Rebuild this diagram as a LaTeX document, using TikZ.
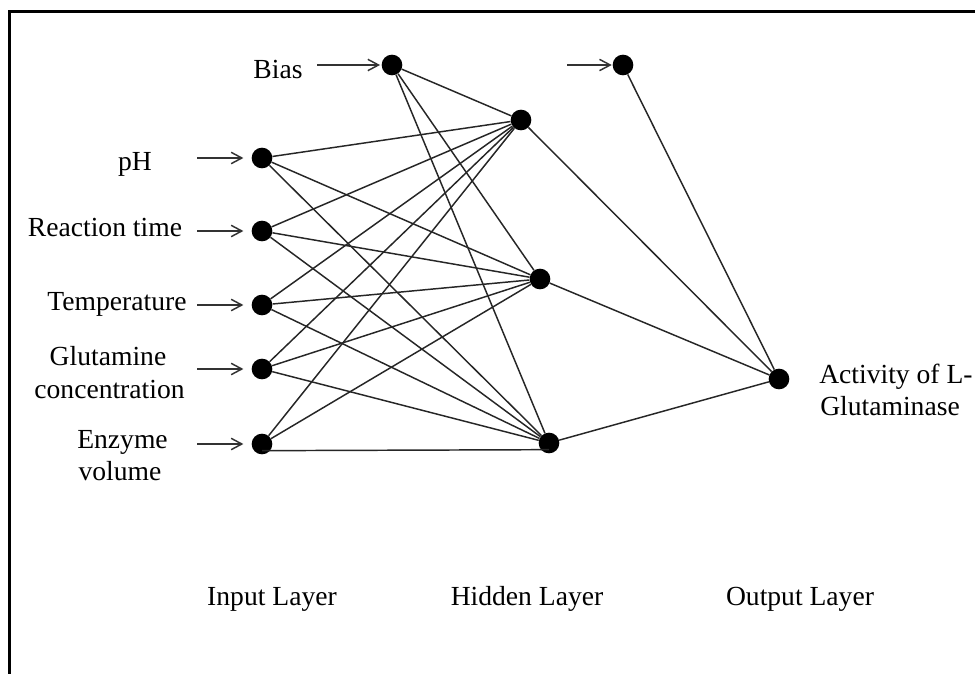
\documentclass[tikz,border=0pt]{standalone}
\usepackage{fontspec}
\setmainfont{Liberation Serif}
\usetikzlibrary{arrows.meta}

\tikzset{
  neuron/.style={circle, fill=black, inner sep=0pt, minimum size=15.5pt},
  link/.style={draw=black!85, line width=1.1pt},
  feed/.style={draw=black!80, line width=1.2pt, -{Straight Barb[length=8pt, width=8.5pt, line width=1.1pt]}},
  lbl/.style={anchor=base, inner sep=0pt, font=\fontsize{20.7}{24.8}\selectfont, text=black},
}

\begin{document}
\begin{tikzpicture}[x=0.75pt, y=-0.75pt]
  \clip (0,0) rectangle (975,674);
  \fill[white] (0,0) rectangle (975,674);

  % outer frame (only the top and left sides fall inside the page)
  \draw[line width=2.4pt] (9.5,690) -- (9.5,11.3) -- (990,11.3);

  % neurons
  \node[neuron] (bias) at (392,65) {};
  \node[neuron] (ph)   at (262,158) {};
  \node[neuron] (rt)   at (262,231) {};
  \node[neuron] (temp) at (262,305) {};
  \node[neuron] (glu)  at (262,369) {};
  \node[neuron] (enz)  at (262,444) {};
  \node[neuron] (h1)   at (521,120) {};
  \node[neuron] (h2)   at (540,279) {};
  \node[neuron] (h3)   at (549,443) {};
  \node[neuron] (obias) at (623,65) {};
  \node[neuron] (out)  at (779,379) {};

  % weights: bias and inputs to hidden layer
  \foreach \s in {bias,ph,rt,temp,glu}
    \foreach \t in {h1,h2,h3}
      \draw[link] (\s) -- (\t);
  \draw[link] (enz) -- (h1);
  \draw[link] (enz) -- (h2);
  \draw[link] ([yshift=-5pt]enz.center) -- ([yshift=-5pt]h3.center);

  % hidden layer and output bias to output
  \foreach \s in {h1,h2,h3,obias}
    \draw[link] (\s) -- (out);

  % incoming arrows
  \foreach \n in {ph,rt,temp,glu,enz}
    \draw[feed] ([xshift=-40.5pt]\n.west) -- ([xshift=-6pt]\n.west);
  \draw[feed] ([xshift=-48pt]bias.west) -- ([xshift=-1pt]bias.west);
  \draw[feed] ([xshift=-34pt]obias.west) -- ([xshift=-0.5pt]obias.west);

  % labels
  \node[lbl] (tbias) at (278,79) {Bias};
  \node[lbl] (tph)   at (135,170) {pH};
  \node[lbl] (trt)   at (105,236) {Reaction time};
  \node[lbl] (ttemp) at (117,310) {Temperature};
  \node[lbl] (tglu1) at (108,365) {Glutamine};
  \node[lbl] (tglu2) at (109.5,398) {concentration};
  \node[lbl] (tenz1) at (122.5,448) {Enzyme};
  \node[lbl] (tenz2) at (120,480) {volume};
  \node[lbl, anchor=base west] (tout1) at (819,383) {Activity of L-};
  \node[lbl, anchor=base west] (tout2) at (820,415) {Glutaminase};

  \node[lbl] (lin)  at (272,605) {Input Layer};
  \node[lbl] (lhid) at (527,605) {Hidden Layer};
  \node[lbl] (lout) at (800,605) {Output Layer};
\end{tikzpicture}
\end{document}
